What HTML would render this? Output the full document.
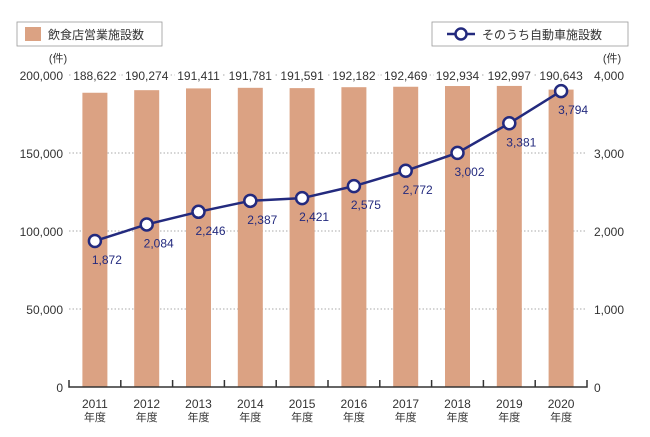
<!DOCTYPE html>
<html><head><meta charset="utf-8"><style>
body{margin:0;background:#fff;}
svg{display:block;font-family:"Liberation Sans","Noto Sans CJK JP",sans-serif;}
</style></head><body>
<svg id="c" width="650" height="437" viewBox="0 0 650 437">
<g>
<rect x="17" y="22" width="145" height="24" fill="#fff" stroke="#999" stroke-width="0.8"/>
<rect x="25" y="27" width="16" height="14" fill="#dba283"/>
<text x="48" y="39" font-size="12" fill="#333">飲食店営業施設数</text>
</g>
<g>
<rect x="432" y="22" width="196" height="24" fill="#fff" stroke="#999" stroke-width="0.8"/>
<line x1="447" y1="34" x2="475" y2="34" stroke="#232a7e" stroke-width="2.5"/>
<circle cx="461" cy="34" r="5.5" fill="#fff" stroke="#232a7e" stroke-width="2.5"/>
<text x="482" y="39" font-size="12" fill="#333">そのうち自動車施設数</text>
</g>
<text x="58" y="62" font-size="11" fill="#333" text-anchor="middle">(件)</text>
<text x="612" y="62" font-size="11" fill="#333" text-anchor="middle">(件)</text>
<g id="grid"></g><g id="bars"></g><g id="axes"></g><g id="line"></g>
</svg>
<script>
const categories=["2011","2012","2013","2014","2015","2016","2017","2018","2019","2020"];
const totalValues=[188622,190274,191411,191781,191591,192182,192469,192934,192997,190643];
const carValues=[1872,2084,2246,2387,2421,2575,2772,3002,3381,3794];
const leftTicks=[0,50000,100000,150000,200000];
const rightTicks=[0,1000,2000,3000,4000];
const NS="http://www.w3.org/2000/svg";
const x0=69,x1=587,yB=387,yT=75;
const bw=(x1-x0)/categories.length;
const xc=i=>x0+bw*(i+0.5);
const yL=v=>yB-(v/200000)*(yB-yT);
const yR=v=>yB-(v/4000)*(yB-yT);
const fmt=v=>v.toLocaleString("en-US");
function mk(t,a,p,txt){const e=document.createElementNS(NS,t);for(const k in a)e.setAttribute(k,a[k]);if(txt!==undefined)e.textContent=txt;p.appendChild(e);return e;}
const G=id=>document.getElementById(id);
leftTicks.forEach((v,i)=>{
 const y=yL(v);
 if(v>0){const l=mk("line",{x1:x0,x2:x1,y1:y,y2:y,stroke:"#aaa","stroke-width":1,"stroke-dasharray":"1.5,2"},G("grid"));
 
 }
 const t=mk("text",{x:x0-6,y:y+5,"font-size":12,"text-anchor":"end",fill:"#333"},G("axes"),fmt(v));
 
 
});
rightTicks.forEach(v=>{
 const t=mk("text",{x:x1+7,y:yR(v)+5,"font-size":12,"text-anchor":"start",fill:"#333"},G("axes"),fmt(v));
 
 
});
const ax=mk("path",{d:`M${x0},${yB-7}V${yB}H${x1}V${yB-7}`,fill:"none",stroke:"#333","stroke-width":1.5},G("axes"));


categories.forEach((c,i)=>{
 const x=xc(i);
 if(i>0){const tk=mk("line",{x1:x0+bw*i,x2:x0+bw*i,y1:yB-7,y2:yB,stroke:"#333","stroke-width":1.5},G("axes"));
 
 }
 const b=mk("rect",{x:x-12.5,y:yL(totalValues[i]),width:25,height:yB-yL(totalValues[i]),fill:"#dba283"},G("bars"));
 
 
 const bg=mk("rect",{x:x-24,y:yT-8,width:48,height:16,fill:"#fff"},G("bars"));
 
 
 const bl=mk("text",{x:x,y:yT+5,"font-size":12,"text-anchor":"middle",fill:"#333"},G("bars"),fmt(totalValues[i]));
 
 
 const yl=mk("text",{x:x,y:yB+21,"font-size":12,"text-anchor":"middle",fill:"#333"},G("axes"),c);
 
 
 const nl=mk("text",{x:x,y:yB+34,"font-size":11,"text-anchor":"middle",fill:"#333"},G("axes"),"年度");
 
 
});
const pts=carValues.map((v,i)=>xc(i)+","+yR(v)).join(" ");
const pl=mk("polyline",{points:pts,fill:"none",stroke:"#232a7e","stroke-width":2.5},G("line"));


carValues.forEach((v,i)=>{
 const p=mk("circle",{cx:xc(i),cy:yR(v),r:6,fill:"#fff",stroke:"#232a7e","stroke-width":2.5},G("line"));
 
 
 const t=mk("text",{x:xc(i)+12,y:yR(v)+23,"font-size":12,"text-anchor":"middle",fill:"#232a7e"},G("line"),fmt(v));
 
 
});
</script>
</body></html>
